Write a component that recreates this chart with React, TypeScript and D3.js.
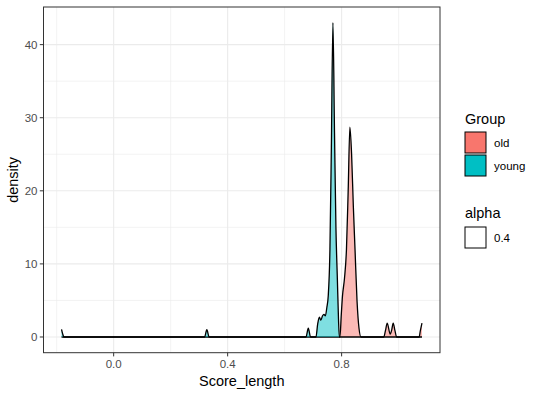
import * as d3 from "d3";

// density curves, knots
const youngX = [-0.183, -0.178, -0.175, 0.319, 0.327, 0.335, 0.675, 0.683, 0.691, 0.710, 0.716, 0.722, 0.727, 0.733, 0.738, 0.743, 0.748, 0.753, 0.759, 0.764, 0.7695, 0.775, 0.780, 0.785, 0.789, 0.792, 0.800, 1.082];
const youngDensity = [1.05, 0.3, 0, 0, 1.0, 0, 0, 1.2, 0, 0, 1.8, 2.7, 2.3, 2.9, 3.1, 2.9, 4.0, 5.6, 12, 26, 43, 28, 15, 8, 2.5, 0, 0, 0];

const oldX = [-0.183, 0.790, 0.794, 0.799, 0.803, 0.810, 0.817, 0.823, 0.829, 0.835, 0.841, 0.847, 0.854, 0.861, 0.868, 0.948, 0.954, 0.960, 0.9705, 0.976, 0.981, 0.987, 0.993, 1.072, 1.076, 1.082];
const oldDensity = [0, 0, 0, 3.2, 5.6, 8, 12, 20, 28.7, 25, 18, 12, 5, 1.2, 0, 0, 0.9, 1.9, 0.4, 1.0, 1.9, 0.9, 0, 0, 0.8, 1.9];

const groups = ["old", "young"];
const groupColors = ["#F8766D", "#00BFC4"];
const xTicks = [0.0, 0.4, 0.8];
const xMinor = [-0.2, 0.2, 0.6, 1.0];
const yTicks = [0, 10, 20, 30, 40];
const yMinor = [5, 15, 25, 35];

const panelLeft = 43.5;
const panelRight = 440;
const panelTop = 7;
const panelBottom = 352.7;

export default function App() {
  const allX = [...youngX, ...oldX];
  const xMin = d3.min(allX)!;
  const xMax = d3.max(allX)!;
  const xPad = (xMax - xMin) * 0.05;
  const yMax = d3.max([...youngDensity, ...oldDensity])!;
  const yPad = yMax * 0.05;

  const x = d3.scaleLinear().domain([xMin - xPad, xMax + xPad]).range([panelLeft, panelRight]);
  const y = d3.scaleLinear().domain([-yPad, yMax + yPad]).range([panelBottom, panelTop]);

  const area = d3.area<[number, number]>()
    .x((d) => x(d[0]))
    .y0(y(0))
    .y1((d) => y(d[1]))
    .curve(d3.curveMonotoneX);
  const line = d3.line<[number, number]>()
    .x((d) => x(d[0]))
    .y((d) => y(d[1]))
    .curve(d3.curveMonotoneX);

  const series = [
    { key: "old", pts: oldX.map((v, i) => [v, oldDensity[i]] as [number, number]) },
    { key: "young", pts: youngX.map((v, i) => [v, youngDensity[i]] as [number, number]) },
  ];
  const color = d3.scaleOrdinal<string>().domain(groups).range(groupColors);

  const font = "'Liberation Sans', Arial, sans-serif";
  const legX = 465;

  return (
    <svg width={540} height={395} style={{ position: "absolute", left: 0, top: 0, background: "#fff" }} fontFamily={font}>
      {/* grid */}
      {yMinor.map((t) => (
        <line key={"ym" + t} x1={panelLeft} x2={panelRight} y1={y(t)} y2={y(t)} stroke="#EBEBEB" strokeWidth={0.6} />
      ))}
      {xMinor.map((t) => (
        <line key={"xm" + t} x1={x(t)} x2={x(t)} y1={panelTop} y2={panelBottom} stroke="#EBEBEB" strokeWidth={0.6} />
      ))}
      {yTicks.map((t) => (
        <line key={"yg" + t} x1={panelLeft} x2={panelRight} y1={y(t)} y2={y(t)} stroke="#EBEBEB" strokeWidth={1.1} />
      ))}
      {xTicks.map((t) => (
        <line key={"xg" + t} x1={x(t)} x2={x(t)} y1={panelTop} y2={panelBottom} stroke="#EBEBEB" strokeWidth={1.1} />
      ))}

      {/* densities */}
      {series.map((s) => (
        <g key={s.key}>
          <path d={area(s.pts)!} fill={color(s.key)} fillOpacity={0.5} />
          <path d={line(s.pts)!} fill="none" stroke="#000" strokeWidth={1.3} strokeLinejoin="round" />
        </g>
      ))}

      {/* panel border */}
      <rect x={panelLeft} y={panelTop} width={panelRight - panelLeft} height={panelBottom - panelTop} fill="none" stroke="#333" strokeWidth={1} />

      {/* axes */}
      {xTicks.map((t) => (
        <g key={"xt" + t}>
          <line x1={x(t)} x2={x(t)} y1={panelBottom} y2={panelBottom + 3.7} stroke="#333" />
          <text x={x(t)} y={panelBottom + 15.5} textAnchor="middle" fontSize={11.5} fill="#4D4D4D">{d3.format(".1f")(t)}</text>
        </g>
      ))}
      {yTicks.map((t) => (
        <g key={"yt" + t}>
          <line x1={panelLeft - 3.7} x2={panelLeft} y1={y(t)} y2={y(t)} stroke="#333" />
          <text x={panelLeft - 6} y={y(t)} dy="0.36em" textAnchor="end" fontSize={11.5} fill="#4D4D4D">{t}</text>
        </g>
      ))}
      <text x={(panelLeft + panelRight) / 2} y={386} textAnchor="middle" fontSize={14.5} fill="#000">Score_length</text>
      <text transform={`translate(18,${(panelTop + panelBottom) / 2}) rotate(-90)`} textAnchor="middle" fontSize={14.5} fill="#000">density</text>

      {/* legend */}
      <text x={legX} y={124} fontSize={14.5} fill="#000">Group</text>
      {groups.map((g, i) => (
        <g key={g}>
          <rect x={legX} y={132 + i * 23} width={21} height={21} fill={color(g)} stroke="#000" strokeWidth={1} />
          <text x={legX + 29} y={132 + i * 23 + 10.5} dy="0.36em" fontSize={11.5} fill="#000">{g}</text>
        </g>
      ))}
      <text x={legX} y={218} fontSize={14.5} fill="#000">alpha</text>
      <rect x={legX} y={227} width={21} height={21} fill="#fff" stroke="#000" strokeWidth={1} />
      <text x={legX + 29} y={237.5} dy="0.36em" fontSize={11.5} fill="#000">0.4</text>
    </svg>
  );
}
